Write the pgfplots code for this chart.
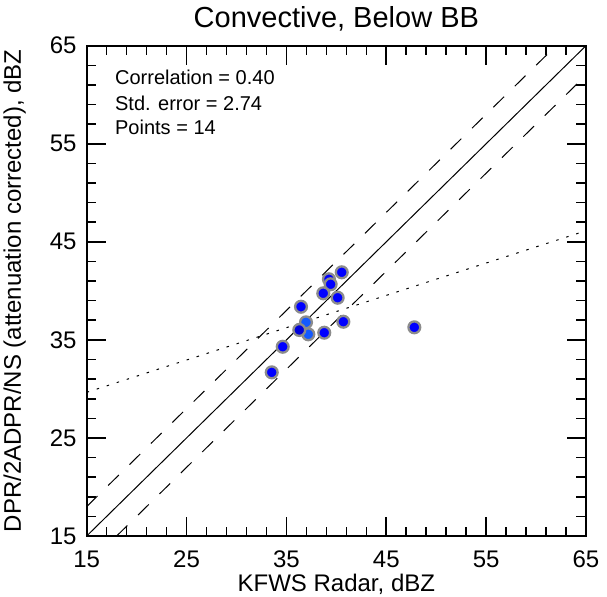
\documentclass[border=0pt]{standalone}
\usepackage{fontspec}
\setmainfont{Liberation Sans}
\usepackage{pgfplots}
\pgfplotsset{compat=1.18}
\definecolor{ptblue}{RGB}{0,0,255}
\definecolor{ptlight}{RGB}{20,90,255}
\definecolor{ring}{RGB}{140,140,140}
\newcommand{\fsz}[1]{\fontsize{#1bp}{#1bp}\selectfont}
\begin{document}
\begin{tikzpicture}
\useasboundingbox (-86.7bp,-61bp) rectangle (520.3bp,536bp);
\begin{axis}[
  scale only axis, width=499.3bp, height=490.3bp,
  anchor=south west, at={(0,0)},
  xmin=15, xmax=65, ymin=15, ymax=65,
  xtick={15,25,...,65}, ytick={15,25,...,65},
  minor tick num=4, tick align=inside,
  major tick length=19bp, minor tick length=9.5bp,
  every tick/.style={black, line width=1.6bp},
  axis line style={line width=2bp},
  /pgf/number format/assume math mode=true,
  ticklabel style={font=\fsz{24}},
  xticklabel style={anchor=base, inner sep=0pt, yshift=-31bp},
  yticklabel style={anchor=east, inner sep=0pt, xshift=-10bp},
  title={Convective, Below BB},
  title style={at={(axis description cs:0.5,1)}, anchor=base, inner sep=0pt, yshift=12.4bp, font=\fsz{29}},
  xlabel={KFWS Radar, dBZ},
  xlabel style={at={(axis description cs:0.5,-0.1138)}, anchor=base, inner sep=0pt, font=\fsz{24}},
  ylabel={DPR/2ADPR/NS (attenuation corrected), dBZ},
  ylabel style={at={(axis description cs:-0.1316,0.5)}, anchor=base, inner sep=0pt, font=\fsz{24}},
]
% scatter points
\addplot[only marks, mark=*, mark size=5.9bp, mark options={fill=ptblue, draw=ring, line width=2.3bp}]
  coordinates {(40.54,41.89)(39.26,41.18)(39.43,40.67)(38.69,39.75)(40.13,39.30)
               (36.46,38.38)(40.70,36.85)(38.79,35.73)(47.81,36.28)(34.63,34.30)(33.53,31.69)};
\addplot[only marks, mark=*, mark size=5.9bp, mark options={fill=ptlight, draw=ring, line width=2.3bp}]
  coordinates {(36.96,36.79)(37.19,35.57)};
\addplot[only marks, mark=*, mark size=5.9bp, mark options={fill=ptblue!85!black, draw=ring, line width=2.3bp}]
  coordinates {(36.29,36.01)};
% reference lines
\addplot[black, line width=1bp] coordinates {(15,15)(65,65)};
\addplot[black, line width=1bp, dash pattern=on 15bp off 15bp] coordinates {(15,18)(62,65)};
\addplot[black, line width=1bp, dash pattern=on 15bp off 15bp] coordinates {(18,15)(65,62)};
\addplot[black, line width=1bp, dash pattern=on 2.5bp off 8bp] coordinates {(15,29.65)(65,46.13)};
\node[anchor=base west, inner sep=0pt, font=\fsz{20}] at (axis cs:17.83,61.06) {Correlation = 0.40};
\node[anchor=base west, inner sep=0pt, font=\fsz{20}] at (axis cs:17.83,58.44) {Std. error = 2.74};
\node[anchor=base west, inner sep=0pt, font=\fsz{20}] at (axis cs:17.83,55.96) {Points = 14};
\end{axis}
\end{tikzpicture}
\end{document}
